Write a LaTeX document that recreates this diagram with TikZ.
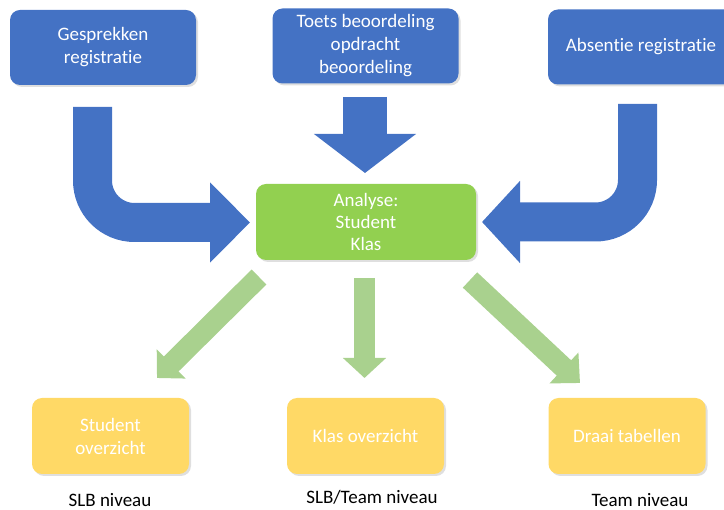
\documentclass[tikz,border=0pt]{standalone}
\usepackage{fontspec}
\setmainfont{Carlito}[Ligatures=NoCommon]
\usetikzlibrary{arrows.meta,shadows}
\definecolor{boxblue}{HTML}{4472C4}
\definecolor{boxgreen}{HTML}{92D050}
\definecolor{boxyellow}{HTML}{FFD966}
\definecolor{arrowgreen}{HTML}{A9D18E}

\begin{document}
\begin{tikzpicture}[x=1pt,y=-1pt,
	box/.style={rectangle,rounded corners=10pt,text=white,align=center,
		font=\fontsize{19}{23}\selectfont,
		drop shadow={opacity=0.25,shadow xshift=2pt,shadow yshift=-2pt}},
	sourcebox/.style={box,fill=boxblue,minimum width=186pt,minimum height=75pt},
	resultbox/.style={box,fill=boxyellow,minimum width=157pt,minimum height=76pt},
	levellabel/.style={font=\fontsize{19}{23}\selectfont},
	bluearrow/.style={draw=boxblue,line width=39pt,rounded corners=42pt},
	greenarrow/.style={draw=arrowgreen,line width=21pt}]
		\useasboundingbox (0,0) rectangle (724,510);
		\node[sourcebox] (gesprek) at (103,47.5) {Gesprekken\\registratie};
		\node[sourcebox] (toets) at (365.5,46) {Toets beoordeling\\opdracht\\beoordeling};
		\node[sourcebox] (absentie) at (641,47) {Absentie registratie};
		\node[box,fill=boxgreen,minimum width=220pt,minimum height=76pt,font=\fontsize{19}{22}\selectfont] (analyse) at (366,222) {Analyse:\\Student\\Klas};
		\node[resultbox] (student) at (110.5,436) {Student\\overzicht};
		\node[resultbox] (klas) at (365.5,436) {Klas overzicht};
		\node[resultbox] (draai) at (627,436) {Draai tabellen};
		\node[levellabel] (slb) at (110,500) {SLB niveau};
		\node[levellabel] (slbteam) at (372,497) {SLB/Team niveau};
		\node[levellabel] (team) at (640,500) {Team niveau};
		\coordinate (gesprek out) at (92.5,107);
		\coordinate (gesprek bend) at (92.5,222.5);
		\coordinate (analyse west) at (250,222.5);
		\coordinate (toets out) at (365,97);
		\coordinate (analyse north) at (365,173);
		\coordinate (absentie out) at (637.5,104);
		\coordinate (absentie bend) at (637.5,222);
		\coordinate (analyse east) at (482,222);
		\coordinate (student out) at (259,277);
		\coordinate (student in) at (157,378);
		\coordinate (klas out) at (364.5,278);
		\coordinate (klas in) at (364.5,378);
		\coordinate (draai out) at (470,280);
		\coordinate (draai in) at (580,383);
		\draw[bluearrow,-{Triangle[width=78pt,length=40pt]}] (gesprek out) -- (gesprek bend) -- (analyse west);
		\draw[bluearrow,-{Triangle[width=100pt,length=39pt]},line width=44pt] (toets out) -- (analyse north);
		\draw[bluearrow,-{Triangle[width=80pt,length=38pt]}] (absentie out) -- (absentie bend) -- (analyse east);
		\draw[greenarrow,-{Triangle[width=40pt,length=20pt]}] (student out) -- (student in);
		\draw[greenarrow,-{Triangle[width=42pt,length=20pt]}] (klas out) -- (klas in);
		\draw[greenarrow,-{Triangle[width=41pt,length=22pt]}] (draai out) -- (draai in);
\end{tikzpicture}
\end{document}
